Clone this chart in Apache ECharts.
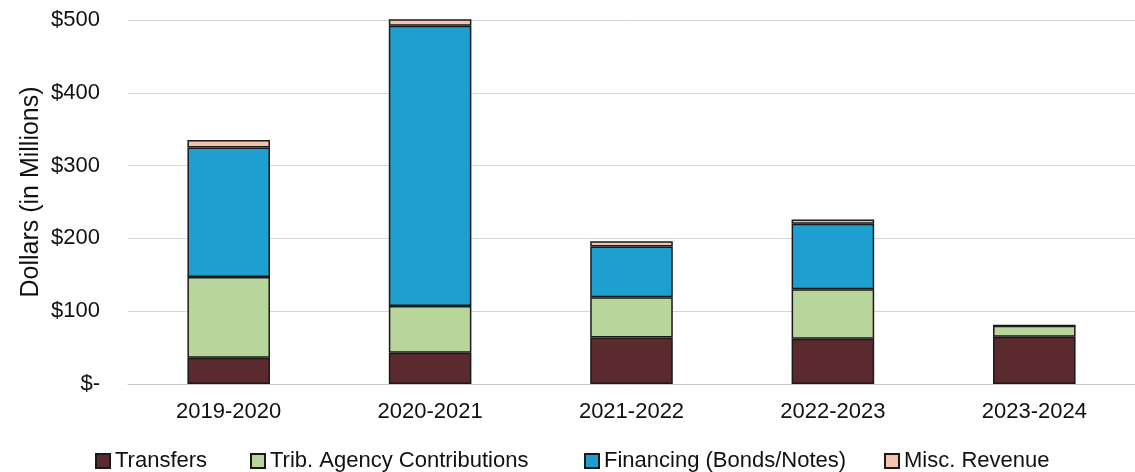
<!DOCTYPE html>
<html><head><meta charset="utf-8">
<script src="https://cdn.jsdelivr.net/npm/echarts@6/dist/echarts.min.js"></script>
<style>html,body{margin:0;padding:0;background:#fff}#c{width:1135px;height:472px}</style>
</head><body><div id="c"></div>
<script>
const categories = ['2019-2020','2020-2021','2021-2022','2022-2023','2023-2024'];
const transfers = [36, 43, 64, 62, 65];
const tribAgency = [111, 64, 55, 68, 15];
const financing = [178, 385, 70, 90, 0];
const miscRevenue = [10, 11, 7, 6, 1];
const yTicks = [0, 100, 200, 300, 400, 500];
const yAxisTitle = 'Dollars (in Millions)';
const seriesNames = ['Transfers','Trib. Agency Contributions','Financing (Bonds/Notes)','Misc. Revenue'];
const colors = ['#5b2a2e','#b8d59c','#1e9fcf','#f3c3ae'];
const font = 'Liberation Sans, Arial, sans-serif';

const chart = echarts.init(document.getElementById('c'));
const dataSets = [transfers, tribAgency, financing, miscRevenue];
const legendLefts = [95, 250, 584, 884];
chart.setOption({
  animation: false,
  backgroundColor: '#fff',
  grid: {left: 128, right: 0, top: 20, bottom: 88},
  graphic: [{
    type: 'text', x: 31, y: 192, rotation: Math.PI / 2,
    style: {text: yAxisTitle, font: '25px ' + font, fill: '#111', textAlign: 'center', textVerticalAlign: 'middle'}
  }],
  legend: seriesNames.map((n, i) => ({
    data: [n], left: legendLefts[i], top: 450, itemWidth: 14, itemHeight: 14, itemGap: 3,
    icon: 'rect', padding: 0,
    textStyle: {fontFamily: font, fontSize: 22, color: '#111', padding: [3,0,0,0]}
  })),
  xAxis: {
    type: 'category', data: categories,
    axisLine: {lineStyle: {color: '#c8c8c8', width: 1}},
    axisTick: {show: false},
    axisLabel: {fontFamily: font, fontSize: 22, color: '#111', margin: 17}
  },
  yAxis: {
    type: 'value', min: yTicks[0], max: yTicks[yTicks.length-1], interval: 100,
    axisLine: {show: false}, axisTick: {show: false},
    splitLine: {lineStyle: {color: '#d6d6d6', width: 1}},
    axisLabel: {fontFamily: font, fontSize: 22, color: '#111', margin: 28,
      formatter: v => v === 0 ? '$-' : '$' + v}
  },
  series: seriesNames.map((n, i) => ({
    name: n, type: 'bar', stack: 'total', data: dataSets[i], barWidth: '41%',
    itemStyle: {color: colors[i], borderColor: '#1a1a1a', borderWidth: 1.5}
  }))
});
</script></body></html>
